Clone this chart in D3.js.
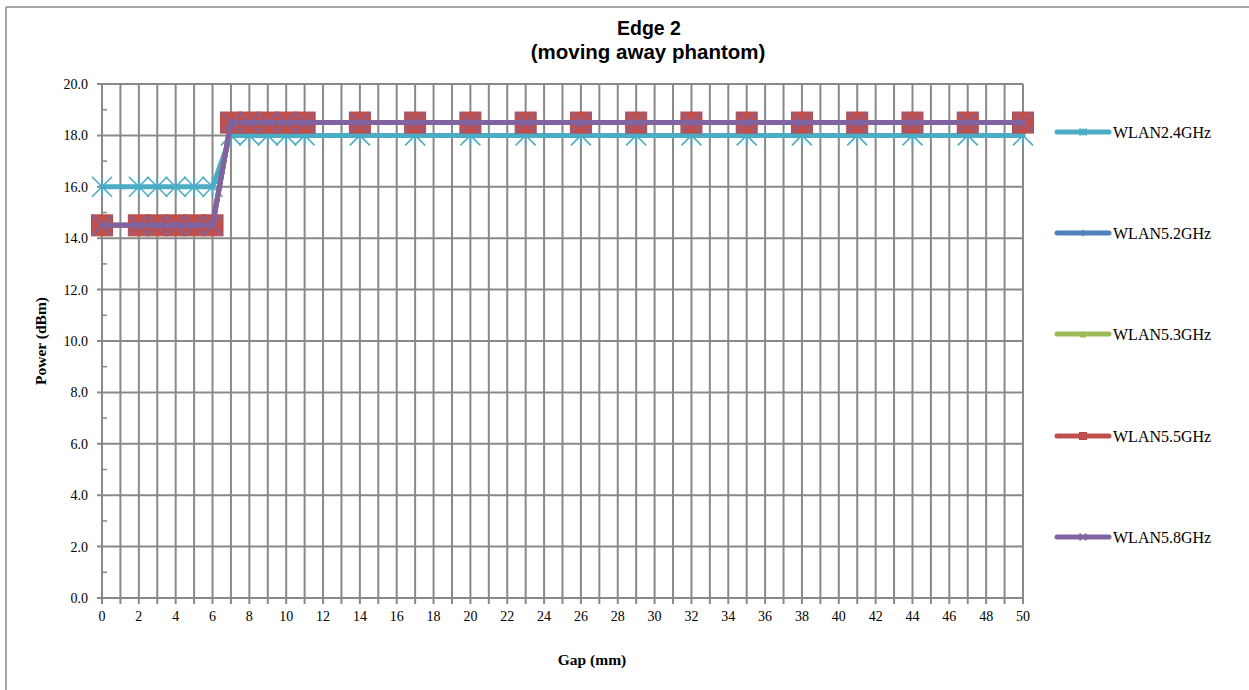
<!DOCTYPE html>
<html><head><meta charset="utf-8">
<script src="https://cdn.jsdelivr.net/npm/d3@7/dist/d3.min.js"></script>
<style>body{margin:0;background:#fff}svg{display:block}</style>
</head><body>
<svg id="c" width="1249" height="690"></svg>
<script>
const gap = [0,2,3,4,5,6,7,8,9,10,11,14,17,20,23,26,29,32,35,38,41,44,47,50];
const wlan24 = [16,16,16,16,16,16,18,18,18,18,18,18,18,18,18,18,18,18,18,18,18,18,18,18];
const wlan52 = [14.5,14.5,14.5,14.5,14.5,14.5,18.5,18.5,18.5,18.5,18.5,18.5,18.5,18.5,18.5,18.5,18.5,18.5,18.5,18.5,18.5,18.5,18.5,18.5];
const wlan53 = [14.5,14.5,14.5,14.5,14.5,14.5,18.5,18.5,18.5,18.5,18.5,18.5,18.5,18.5,18.5,18.5,18.5,18.5,18.5,18.5,18.5,18.5,18.5,18.5];
const wlan55 = [14.5,14.5,14.5,14.5,14.5,14.5,18.5,18.5,18.5,18.5,18.5,18.5,18.5,18.5,18.5,18.5,18.5,18.5,18.5,18.5,18.5,18.5,18.5,18.5];
const wlan58 = [14.5,14.5,14.5,14.5,14.5,14.5,18.5,18.5,18.5,18.5,18.5,18.5,18.5,18.5,18.5,18.5,18.5,18.5,18.5,18.5,18.5,18.5,18.5,18.5];
const seriesNames = ["WLAN2.4GHz","WLAN5.2GHz","WLAN5.3GHz","WLAN5.5GHz","WLAN5.8GHz"];
const xTickLabels = d3.range(0, 51, 2);
const yTickLabels = d3.range(0, 21, 2);

const colors = ["#4BACC6","#4F81BD","#9BBB59","#C0504D","#8064A2"];
const markers = ["star","diamond","triangle","square","x"];
const values = [wlan24, wlan52, wlan53, wlan55, wlan58];

const svg = d3.select("#c");
const L = 102, R = 1023, T = 84, B = 598;
const x = d3.scaleLinear().domain([0,50]).range([L,R]);
const y = d3.scaleLinear().domain([0,20]).range([B,T]);
const grid = "#898989";
const serif = "Liberation Serif, Times New Roman, serif";

// outer border (top & left)
svg.append("line").attr("x1",6).attr("x2",1249).attr("y1",7).attr("y2",7).attr("stroke","#8a8a8a").attr("stroke-width",1.5);
svg.append("line").attr("x1",6).attr("x2",6).attr("y1",7).attr("y2",690).attr("stroke","#8a8a8a").attr("stroke-width",1.5);

// gridlines
const g = svg.append("g");
g.selectAll(".vg").data(d3.range(0,51,1)).enter().append("line")
  .attr("x1",d=>x(d)).attr("x2",d=>x(d)).attr("y1",T).attr("y2",B+6)
  .attr("stroke",grid).attr("stroke-width",2);
g.selectAll(".hg").data(yTickLabels).enter().append("line")
  .attr("x1",L-5).attr("x2",R).attr("y1",d=>y(d)).attr("y2",d=>y(d))
  .attr("stroke",grid).attr("stroke-width",2);
g.selectAll(".mt").data(d3.range(1,20,2)).enter().append("line")
  .attr("x1",L).attr("x2",L+5).attr("y1",d=>y(d)).attr("y2",d=>y(d))
  .attr("stroke",grid).attr("stroke-width",1.5);

// axis labels
svg.append("g").selectAll("text").data(yTickLabels).enter().append("text")
  .attr("x",L-14).attr("y",d=>y(d)+5).attr("text-anchor","end")
  .attr("font-family",serif).attr("font-size",14)
  .text(d=>d.toFixed(1));
svg.append("g").selectAll("text").data(xTickLabels).enter().append("text")
  .attr("x",d=>x(d)).attr("y",B+23).attr("text-anchor","middle")
  .attr("font-family",serif).attr("font-size",14)
  .text(d=>d);

// titles
const tf = "Liberation Sans, Arial, sans-serif";
svg.append("text").attr("x",649).attr("y",35).attr("text-anchor","middle").attr("font-family",tf)
  .attr("font-weight","bold").attr("font-size",19.5).text("Edge 2");
svg.append("text").attr("x",648).attr("y",59).attr("text-anchor","middle").attr("font-family",tf)
  .attr("font-weight","bold").attr("font-size",20.5).text("(moving away phantom)");
svg.append("text").attr("transform","translate(46,341) rotate(-90)").attr("text-anchor","middle")
  .attr("font-family",serif).attr("font-weight","bold").attr("font-size",15.5)
  .text("Power (dBm)");
svg.append("text").attr("x",592).attr("y",665).attr("text-anchor","middle")
  .attr("font-family",serif).attr("font-weight","bold").attr("font-size",15.5)
  .text("Gap (mm)");

function drawMarker(sel, type, color, s) {
  const h = s/2;
  if (type === "square") {
    sel.append("rect").attr("x",-h).attr("y",-h).attr("width",s).attr("height",s)
      .attr("fill",color).attr("stroke","#b54a47").attr("stroke-width",1);
  } else if (type === "diamond") {
    sel.append("path").attr("d",`M0,${-h}L${h},0L0,${h}L${-h},0Z`).attr("fill",color);
  } else if (type === "triangle") {
    sel.append("path").attr("d",`M0,${-h}L${h},${h}L${-h},${h}Z`).attr("fill",color);
  } else if (type === "x") {
    sel.append("path").attr("d",`M${-h},${-h}L${h},${h}M${-h},${h}L${h},${-h}`)
      .attr("stroke",color).attr("stroke-width",1.6).attr("fill","none");
  } else if (type === "star") {
    sel.append("path").attr("d",`M${-h},${-h}L${h},${h}M${-h},${h}L${h},${-h}M0,${-h}L0,${h}`)
      .attr("stroke",color).attr("stroke-width",1.6).attr("fill","none");
  }
}

const line = d3.line().x(d=>x(d[0])).y(d=>y(d[1]));
values.forEach((vals, i) => {
  const pts = gap.map((gx, j) => [gx, vals[j]]);
  const sg = svg.append("g");
  sg.append("path").datum(pts).attr("d",line).attr("fill","none")
    .attr("stroke",colors[i]).attr("stroke-width",5).attr("stroke-linejoin","round").attr("stroke-linecap","round");
  pts.forEach(p => {
    const m = sg.append("g").attr("transform",`translate(${x(p[0])},${y(p[1])})`);
    drawMarker(m, markers[i], colors[i], markers[i] === "square" ? 21 : 20);
  });
});

// legend
const legY = [132,233,334,436,537];
seriesNames.forEach((n, i) => {
  const lg = svg.append("g").attr("transform",`translate(0,${legY[i]})`);
  lg.append("line").attr("x1",1057).attr("x2",1109).attr("y1",0).attr("y2",0)
    .attr("stroke",colors[i]).attr("stroke-width",5).attr("stroke-linecap","round");
  const m = lg.append("g").attr("transform","translate(1083,0)");
  drawMarker(m, markers[i], colors[i], 7);
  lg.append("text").attr("x",1113).attr("y",5.5).attr("font-family",serif)
    .attr("font-size",16).text(n);
});
</script>
</body></html>
